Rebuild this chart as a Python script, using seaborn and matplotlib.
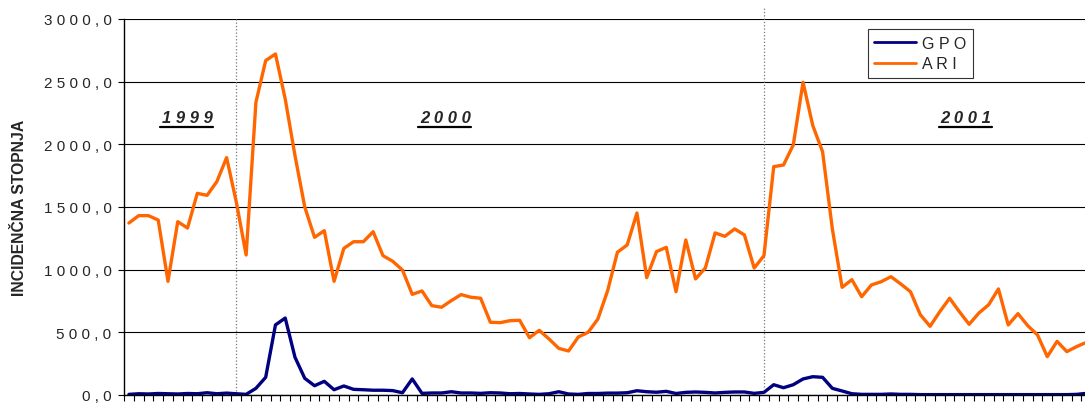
import numpy as np
import pandas as pd

import matplotlib
matplotlib.use('Agg')

from matplotlib import pyplot as plt
from matplotlib.ticker import FuncFormatter, FixedLocator
from matplotlib.lines import Line2D
import seaborn as sns

# weekly incidence rates, late 1999 .. mid 2001
ari = [1372, 1431, 1431, 1396, 907, 1383, 1332, 1609, 1593, 1702,
       1894, 1537, 1117, 2335, 2668, 2721, 2362, 1910, 1500, 1258,
       1311, 907, 1170, 1223, 1223, 1303, 1112, 1067, 997, 803,
       830, 713, 700, 753, 801, 780, 772, 580, 577, 593,
       596, 457, 516, 447, 372, 351, 463, 500, 606, 832,
       1139, 1197, 1452, 936, 1144, 1178, 824, 1237, 926, 1013,
       1293, 1266, 1325, 1277, 1013, 1112, 1822, 1835, 1995, 2495,
       2149, 1941, 1325, 859, 920, 784, 878, 904, 944, 886,
       824, 641, 548, 665, 772, 665, 564, 654, 720, 846,
       559, 649, 553, 479, 306, 428, 346, 386, 420]

gpo = [5, 10, 8, 12, 10, 8, 12, 10, 18, 10,
       15, 10, 5, 53, 141, 559, 614, 301, 133, 74,
       109, 42, 72, 45, 42, 38, 38, 35, 18, 128,
       13, 16, 16, 26, 16, 16, 13, 18, 16, 10,
       12, 8, 5, 10, 26, 8, 5, 12, 12, 15,
       15, 18, 34, 26, 22, 29, 12, 21, 24, 21,
       16, 21, 24, 24, 13, 21, 82, 58, 82, 128,
       146, 141, 53, 32, 10, 5, 5, 5, 8, 5,
       5, 3, 3, 3, 3, 3, 3, 3, 3, 3,
       3, 3, 3, 3, 3, 3, 3, 5, 13]

series_names = ["GPO", "ARI"]
series_colors = ["#000080", "#FF6600"]
years = ["1999", "2000", "2001"]
year_label_pos = [6.0, 32.4, 85.7]   # week index where the year label sits
year_start_idx = [11, 65]            # first week of 2000 and 2001
y_ticks = [0, 500, 1000, 1500, 2000, 2500, 3000]


def spaced(s):
    return " ".join(s)


weeks = np.arange(len(ari))
df = pd.DataFrame({
    "week": np.concatenate([weeks, weeks]),
    "value": gpo + ari,
    "series": [series_names[0]] * len(gpo) + [series_names[1]] * len(ari),
})

sns.set_style("white")
plt.rcParams['font.family'] = ['Liberation Sans', 'DejaVu Sans']

fig = plt.figure(figsize=(10.85, 4.14), dpi=100)
ax = fig.add_axes([0.1143, 0.0435, 0.8857, 0.9082])

sns.lineplot(data=df, x="week", y="value", hue="series", hue_order=series_names,
             palette=series_colors, linewidth=2.4, ax=ax, legend=False)

ax.set_xlim(-0.5, 97.86)
ax.set_ylim(0, 3000)

# grid
ax.yaxis.set_major_locator(FixedLocator(y_ticks))
ax.grid(axis='y', color='black', linewidth=0.8)
ax.grid(axis='x', visible=False)
ax.set_axisbelow(True)

# year boundaries
ax.axvline(year_start_idx[0], ymin=0.01, ymax=1.0, color='#777777', linestyle=':', linewidth=0.9, zorder=1)
ax.axvline(year_start_idx[1], ymin=0.02, ymax=1.032, color='#777777', linestyle=':', linewidth=0.9,
           zorder=1, clip_on=False)

# ticks
ax.xaxis.set_major_locator(FixedLocator(np.arange(len(ari) + 1) - 0.5))
ax.set_xticklabels([])
ax.tick_params(axis='x', direction='out', length=4, width=0.8, color='black', bottom=True)
ax.tick_params(axis='y', direction='out', length=4, width=0.8, color='black', left=True,
               labelsize=11, pad=5)
ax.yaxis.set_major_formatter(FuncFormatter(lambda v, p: spaced(f"{v:.1f}".replace(".", ","))))

for side in ['top', 'right']:
    ax.spines[side].set_visible(False)
for side in ['left', 'bottom']:
    ax.spines[side].set_color('black')
    ax.spines[side].set_linewidth(1.0)

ax.set_xlabel("")
ax.set_ylabel("INCIDENČNA STOPNJA", fontsize=11.3, fontweight='bold')
ax.yaxis.set_label_coords(-0.101, 0.5)

# legend
handles = [Line2D([], [], color=c, linewidth=2) for c in series_colors]
leg = ax.legend(handles, [spaced(n) for n in series_names], loc='upper left',
                bbox_to_anchor=(0.774, 0.973), borderaxespad=0, fontsize=11.5,
                handlelength=2.6, handletextpad=0.4, frameon=True, fancybox=False,
                borderpad=0.4, labelspacing=0.35)
leg.get_frame().set_edgecolor('black')
leg.get_frame().set_linewidth(0.8)

# year labels, underlined
year_texts = []
for yr, xpos in zip(years, year_label_pos):
    t = ax.text(xpos, 2215, spaced(yr), ha='center', va='center', fontsize=12,
                fontweight='bold', fontstyle='italic')
    year_texts.append(t)

fig.canvas.draw()
renderer = fig.canvas.get_renderer()
inv = fig.transFigure.inverted()
for t in year_texts:
    bb = t.get_window_extent(renderer)
    (x0, y0), (x1, y1) = inv.transform([(bb.x0, bb.y0), (bb.x1, bb.y1)])
    fig.add_artist(Line2D([x0 - 0.002, x1], [y0 - 0.004, y0 - 0.004],
                          transform=fig.transFigure, color='black', linewidth=1.6))

plt.savefig("out.png", dpi=100)
plt.close(fig)
